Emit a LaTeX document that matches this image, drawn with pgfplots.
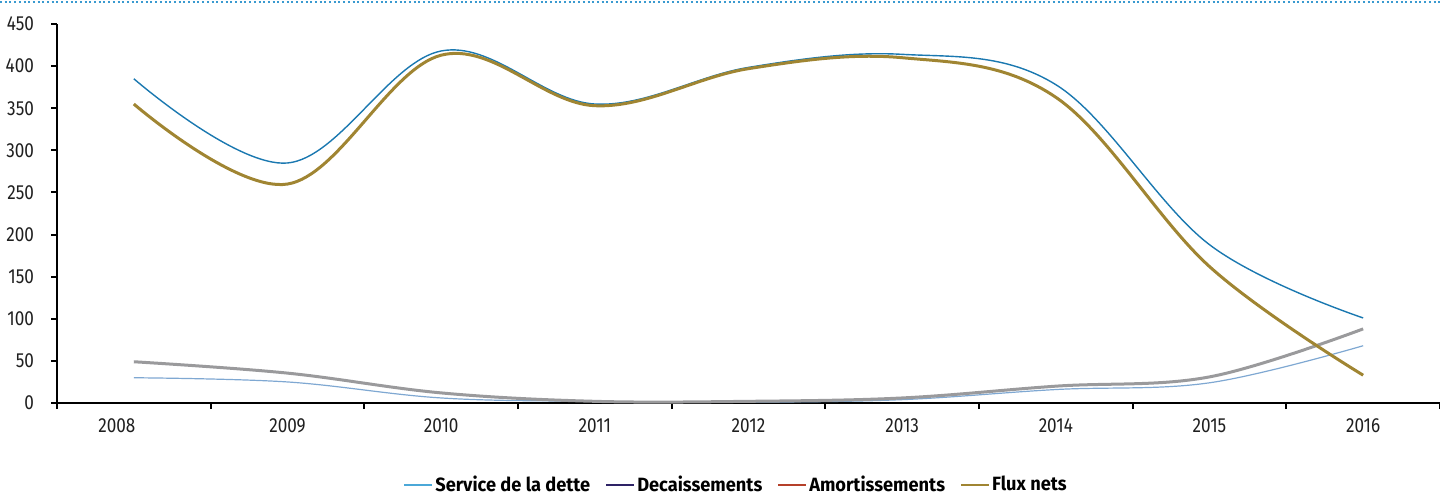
\documentclass[border=0pt]{standalone}
\usepackage{fontspec}
\setmainfont{Fira Sans}[FakeStretch=0.84]
\newfontfamily\legfont{Fira Sans}[FakeStretch=0.95]
\usepackage{pgfplots}
\pgfplotsset{compat=1.18}
\definecolor{dotblue}{HTML}{3A9AD0}
\definecolor{decblue}{HTML}{1A78B0}
\definecolor{amortblue}{HTML}{7FA8D2}
\definecolor{servgray}{HTML}{9A9A9C}
\definecolor{fluxgold}{HTML}{A08532}
\definecolor{legserv}{HTML}{4BA8D8}
\definecolor{legdec}{HTML}{2E2366}
\definecolor{legamort}{HTML}{B5402A}
\begin{document}
\begin{tikzpicture}
\useasboundingbox (0,0) rectangle (720pt,247.5pt);
\draw[color=dotblue, line width=1pt, dash pattern=on 1pt off 1.35pt] (0,246.5pt) -- (720pt,246.5pt);
\begin{axis}[
  at={(28.5pt,46pt)}, anchor=south west,
  width=691.5pt, height=189.5pt, scale only axis,
  xmin=-0.5, xmax=8.5, ymin=0, ymax=450,
  axis x line=bottom, axis y line=left,
  axis line style={-, line width=1pt, black},
  xtick={0,...,8},
  xticklabels={{\makebox[0pt]{\kern-8.5pt 2008\kern8.5pt}},2009,2010,2011,2012,2013,2014,2015,2016},
  major x tick style={draw=none},
  minor xtick={-0.5,0.5,...,8.5},
  minor x tick style={line width=1pt, black},
  minor tick length=3pt,
  ytick={0,50,...,450},
  major y tick style={line width=1pt, black},
  major tick length=3pt,
  tick align=outside,
  /pgf/number format/assume math mode=true,
  /pgf/number format/1000 sep={},
  tick label style={font=\fontsize{10.2}{12}\selectfont, text=black!88},
  yticklabel style={xshift=-5pt},
  xticklabel style={yshift=-1.5pt},
  clip=false,
  legend columns=4,
  legend style={at={(axis description cs:0.491,-0.2164)}, anchor=center,
    draw=none, fill=none, font=\legfont\bfseries\fontsize{9.6}{11}\selectfont,
    /tikz/every even column/.append style={column sep=6.5pt},
    nodes={inner xsep=1pt}},
  legend image code/.code={\draw[#1] (0pt,0pt) -- (14pt,0pt);},
]
\addplot[forget plot, color=amortblue, line width=0.6pt, smooth, tension=0.6] coordinates {
(0,30) (1,25) (2,6) (3,2) (4,1) (5,4) (6,16) (7,24) (8,68)};
\addplot[forget plot, color=servgray, line width=1.5pt, smooth, tension=0.6] coordinates {
(0,49) (1,35.5) (2,12) (3,2) (4,2) (5,6) (6,20) (7,31) (8,88)};
\addplot[forget plot, color=decblue, line width=0.7pt, smooth, tension=0.6] coordinates {
(0,385) (1,285) (2,418) (3,355) (4,398.5) (5,414) (6,378) (7,188) (8,101)};
\addplot[forget plot, color=fluxgold, line width=1.5pt, smooth, tension=0.6] coordinates {
(0,355) (1,260) (2,413) (3,353) (4,397) (5,410) (6,363) (7,162) (8,33)};
\addlegendimage{color=legserv, line width=1pt}
\addlegendentry{Service de la dette}
\addlegendimage{color=legdec, line width=1pt}
\addlegendentry{Decaissements}
\addlegendimage{color=legamort, line width=1pt}
\addlegendentry{Amortissements}
\addlegendimage{color=fluxgold, line width=1pt}
\addlegendentry{Flux nets}
\end{axis}
\end{tikzpicture}
\end{document}
